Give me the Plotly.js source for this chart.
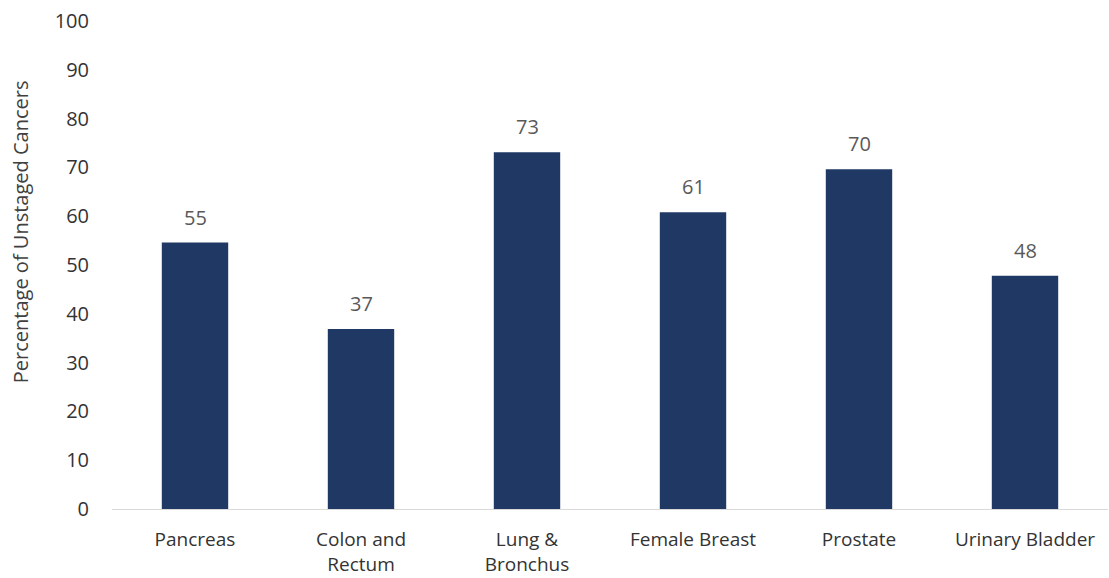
<!DOCTYPE html>
<html>
<head>
<meta charset="utf-8">
<script src="https://cdn.plot.ly/plotly-3.0.1.min.js"></script>
<style>
  html, body { margin: 0; padding: 0; background: #fff; }
  #chart { width: 1109px; height: 578px; }
</style>
</head>
<body>
<div id="chart"></div>
<script>
// unstaged cancers by site (%)
const categories = [
  "Pancreas", "Colon and<br>Rectum", "Lung &<br>Bronchus",
  "Female Breast", "Prostate", "Urinary Bladder",
];
const pctUnstaged = [54.6, 36.9, 73.1, 60.8, 69.6, 47.8];
const yTicks = [0, 10, 20, 30, 40, 50, 60, 70, 80, 90, 100];
const yTitle = "Percentage of Unstaged Cancers";

const barColor = "#203864";
const fontFam = "'Open Sans', 'Segoe UI', sans-serif";

const trace = {
  x: categories,
  y: pctUnstaged,
  type: "bar",
  marker: { color: barColor },
  width: 0.4,
  hoverinfo: "x+y",
};

// value labels above the bars
const labels = categories.map((c, i) => ({
  x: c,
  y: pctUnstaged[i],
  text: pctUnstaged[i].toFixed(0),
  showarrow: false,
  yanchor: "bottom",
  yshift: 10,
  font: { family: fontFam, size: 20, color: "#595959" },
}));

// y title sits a bit above the plot middle in the original, so draw it as a note
labels.push({
  xref: "paper", yref: "paper",
  x: -0.092, y: 0.568,
  xanchor: "center", yanchor: "middle",
  text: yTitle,
  textangle: -90,
  showarrow: false,
  font: { family: fontFam, size: 20, color: "#404040" },
});

const layout = {
  width: 1109,
  height: 578,
  margin: { l: 112, r: 1, t: 21, b: 69 },
  plot_bgcolor: "white",
  paper_bgcolor: "white",
  showlegend: false,
  font: { family: fontFam, color: "#333333" },
  xaxis: {
    type: "category",
    showline: true,
    linecolor: "#d9d9d9",
    linewidth: 1,
    showgrid: false,
    zeroline: false,
    ticks: "",
    ticklabelstandoff: 13,
    tickfont: { size: 19, color: "#333333" },
  },
  yaxis: {
    range: [0, 100],
    tickvals: yTicks,
    showline: false,
    showgrid: false,
    zeroline: false,
    ticks: "",
    ticklabelstandoff: 22,
    tickfont: { size: 20, color: "#333333" },
    automargin: false,
  },
  annotations: labels,
};

Plotly.newPlot("chart", [trace], layout, { displayModeBar: false, responsive: false });
</script>
</body>
</html>
